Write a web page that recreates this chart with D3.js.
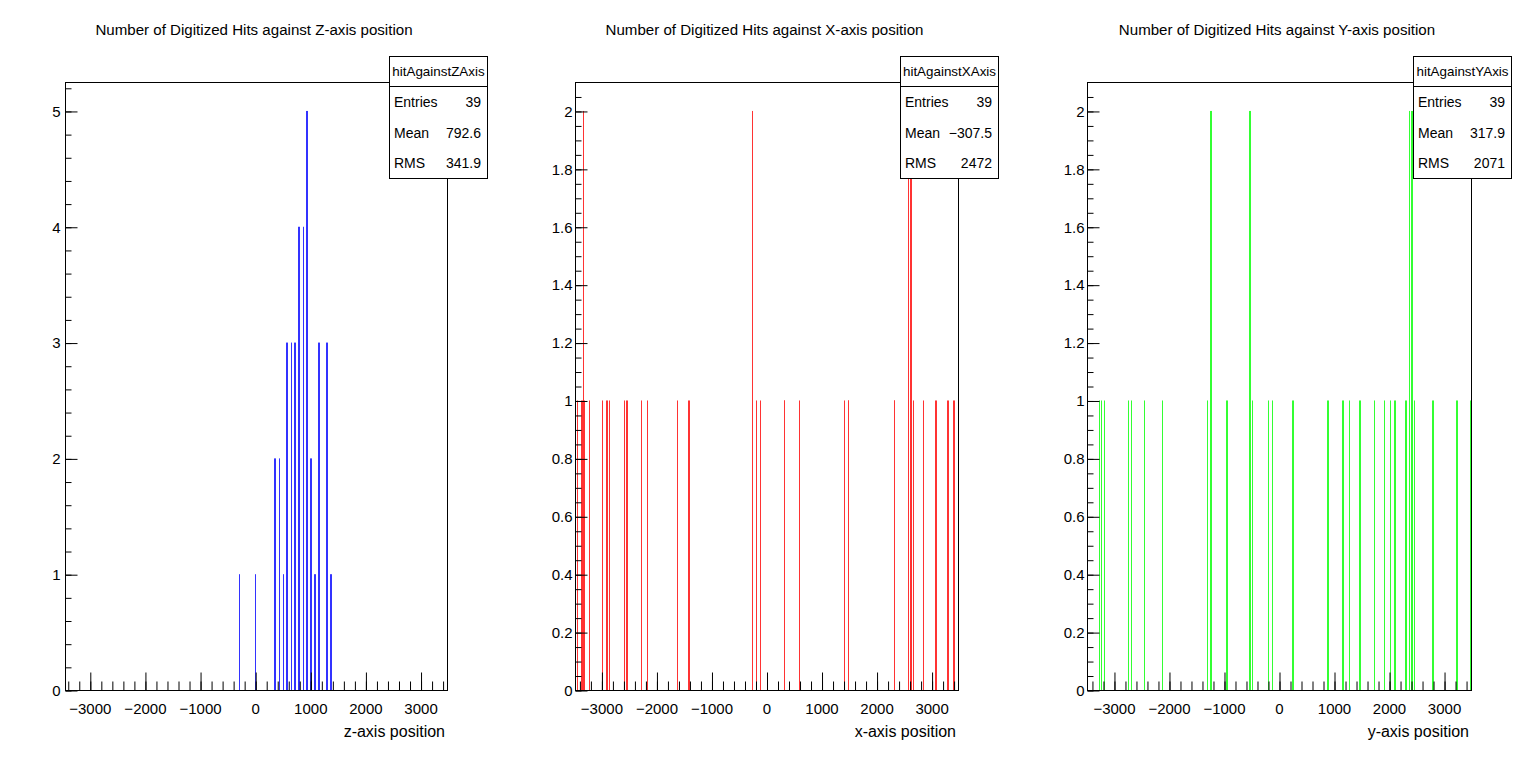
<!DOCTYPE html>
<html>
<head>
<meta charset="utf-8">
<script src="https://cdn.jsdelivr.net/npm/d3@7"></script>
<style>
	body { margin: 0; background: #fff; }
	svg { display: block; font-family: "Liberation Sans", Arial, Helvetica, sans-serif; }
</style>
</head>
<body>
<script>
// histogram titles and stats box texts
const titles = [
	"Number of Digitized Hits against Z-axis position",
	"Number of Digitized Hits against X-axis position",
	"Number of Digitized Hits against Y-axis position"
];
const axisTitles = ["z-axis position", "x-axis position", "y-axis position"];
const statNames = ["hitAgainstZAxis", "hitAgainstXAxis", "hitAgainstYAxis"];
const statLabels = ["Entries", "Mean", "RMS"];
const statEntries = ["39", "39", "39"];
const statMeans = ["792.6", "\u2212307.5", "317.9"];
const statRms = ["341.9", "2472", "2071"];

// axis ranges
const xRanges = [[-3450, 3480], [-3480, 3480], [-3490, 3490]];
const yMaxes = [5.25, 2.1, 2.1];

// bin positions (mm) and hit counts
const zPos = [-288, -4, 345, 363, 437, 510, 562, 581, 655, 708, 726, 776, 795, 867,
	925, 943, 998, 1016, 1070, 1089, 1143, 1161, 1288, 1306, 1361, 1379];
const zHits = [1, 1, 2, 2, 2, 1, 3, 3, 3, 3, 3, 4, 4, 4,
	5, 5, 2, 2, 1, 1, 3, 3, 3, 3, 1, 1];

const xPos = [-3438, -3365, -3347, -3329, -3311, -3220, -2984, -2911, -2893, -2857,
	-2584, -2548, -2530, -2275, -2166, -1621, -1427, -1408, -258, -185, -113,
	309, 327, 596, 1414, 1472, 1490, 2308, 2326, 2577, 2608, 2626, 2668, 2849,
	3071, 3089, 3289, 3307, 3398, 3416];
const xHits = [1, 1, 1, 2, 1, 1, 1, 1, 1, 1,
	1, 1, 1, 1, 1, 1, 1, 1, 2, 1, 1,
	1, 1, 1, 1, 1, 1, 1, 1, 2, 2, 2, 1, 1,
	1, 1, 1, 1, 1, 1];

const yPos = [-3272, -3235, -3175, -2739, -2684, -2448, -2121, -1303, -1250, -1232,
	-972, -954, -551, -533, -485, -194, -122, 242, 260, 872, 891, 1145, 1163, 1272,
	1459, 1478, 1732, 1914, 2023, 2085, 2103, 2296, 2314, 2363, 2405, 2423, 2459,
	2775, 2794, 3212, 3230, 3477];
const yHits = [1, 1, 1, 1, 1, 1, 1, 1, 2, 2,
	1, 1, 2, 2, 1, 1, 1, 1, 1, 1, 1, 1, 1, 1,
	1, 1, 1, 1, 1, 1, 1, 1, 1, 2, 2, 2, 1,
	1, 1, 1, 1, 1];

// tick values
const xMajorTicks = [-3000, -2000, -1000, 0, 1000, 2000, 3000];
const xMinorTicks = d3.range(-3400, 3401, 200);
const countTicksZ = [0, 1, 2, 3, 4, 5];
const countTicksXY = [0, 0.2, 0.4, 0.6, 0.8, 1, 1.2, 1.4, 1.6, 1.8, 2];

const panels = [
	{ pos: zPos, hits: zHits, color: "#3333ff", frame: [65, 447], yTicks: countTicksZ, yMinor: 0.2, yPad: 5 },
	{ pos: xPos, hits: xHits, color: "#ff3333", frame: [575, 958], yTicks: countTicksXY, yMinor: 0.05, yPad: 3 },
	{ pos: yPos, hits: yHits, color: "#33ff33", frame: [1087, 1471], yTicks: countTicksXY, yMinor: 0.05, yPad: 3 }
];

const plotTop = 82, plotBottom = 690;
const svg = d3.select("body").append("svg").attr("width", 1534).attr("height", 775);

panels.forEach((p, i) => {
	const [L, R] = p.frame;
	const g = svg.append("g");
	const x = d3.scaleLinear().domain(xRanges[i]).range([L, R]);
	const y = d3.scaleLinear().domain([0, yMaxes[i]]).range([plotBottom, plotTop]);

	// title
	g.append("text")
		.attr("x", (L + R) / 2 - 2)
		.attr("y", 35)
		.attr("text-anchor", "middle")
		.style("font-size", "15.1px")
		.text(titles[i]);

	// frame
	g.append("rect")
		.attr("x", L + 0.5).attr("y", plotTop + 0.5)
		.attr("width", R - L).attr("height", plotBottom - plotTop)
		.attr("fill", "none").attr("stroke", "#000");

	// bins
	g.selectAll("rect.bin")
		.data(d3.zip(p.pos, p.hits))
		.join("rect")
		.attr("class", "bin")
		.attr("x", (d) => Math.round(x(d[0])))
		.attr("width", 1)
		.attr("y", (d) => y(d[1]))
		.attr("height", (d) => y(0) - y(d[1]))
		.attr("fill", p.color);

	// x axis
	const xMinor = g.append("g").attr("transform", `translate(0.5,${plotBottom + 0.5})`)
		.call(d3.axisBottom(x).tickValues(xMinorTicks).tickSize(-9).tickFormat(""));
	const xMajor = g.append("g").attr("transform", `translate(0.5,${plotBottom + 0.5})`)
		.call(d3.axisBottom(x).tickValues(xMajorTicks).tickSize(-18).tickPadding(13).tickFormat(d3.format("d")));
	xMinor.select(".domain").remove();
	xMajor.select(".domain").attr("d", `M${L - 0.5},0H${R - 0.5}`);
	xMajor.selectAll("text").attr("x", -0.5).style("font-size", "15px").attr("font-family", null);

	// y axis
	const yMinorTicks = d3.range(0, yMaxes[i] - 1e-6, p.yMinor);
	const yMinor = g.append("g").attr("transform", `translate(${L + 0.5},0.5)`)
		.call(d3.axisLeft(y).tickValues(yMinorTicks).tickSize(-6).tickFormat(""));
	const yMajor = g.append("g").attr("transform", `translate(${L + 0.5},0.5)`)
		.call(d3.axisLeft(y).tickValues(p.yTicks).tickSize(-12).tickPadding(p.yPad).tickFormat(d3.format("~g")));
	yMinor.select(".domain").remove();
	yMajor.select(".domain").attr("d", `M0,${plotTop - 0.5}V${plotBottom - 0.5}`);
	yMajor.selectAll("text").style("font-size", "15px").attr("font-family", null);
	g.selectAll(".tick line, .domain").attr("stroke", "#000");

	// axis title
	g.append("text")
		.attr("x", R - 2)
		.attr("y", 737)
		.attr("text-anchor", "end")
		.style("font-size", "16px")
		.text(axisTitles[i]);

	// stats box
	const bx = R - 58, by = 56, bw = 98, bh = 122;
	const box = g.append("g");
	box.append("rect")
		.attr("x", bx + 0.5).attr("y", by + 0.5)
		.attr("width", bw).attr("height", bh)
		.attr("fill", "#fff").attr("stroke", "#000");
	box.append("line")
		.attr("x1", bx).attr("x2", bx + bw)
		.attr("y1", by + 30.5).attr("y2", by + 30.5)
		.attr("stroke", "#000");
	box.append("text")
		.attr("x", bx + bw / 2 + 0.5).attr("y", by + 20)
		.attr("text-anchor", "middle")
		.style("font-size", "13.4px")
		.text(statNames[i]);
	const vals = [statEntries[i], statMeans[i], statRms[i]];
	statLabels.forEach((lab, k) => {
		const yy = by + 51 + k * 30.5;
		box.append("text").attr("x", bx + 5).attr("y", yy)
			.style("font-size", "14px").text(lab);
		box.append("text").attr("x", bx + bw - 6).attr("y", yy)
			.attr("text-anchor", "end")
			.style("font-size", "14px").text(vals[k]);
	});
});
</script>
</body>
</html>
